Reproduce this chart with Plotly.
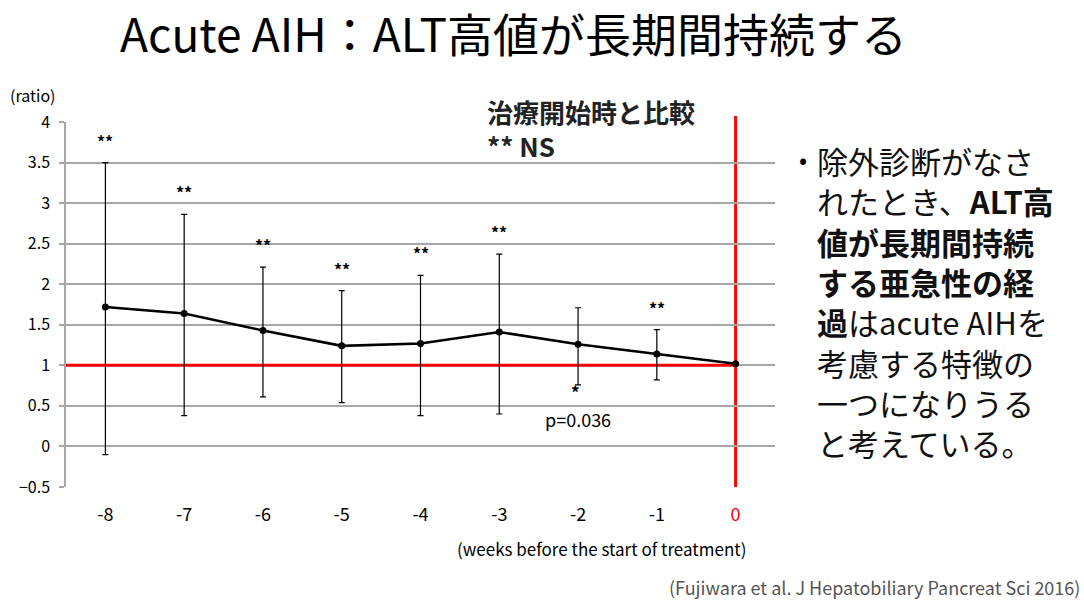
import plotly.graph_objects as go

# ALT ratio relative to the start of treatment, by week
weeks = [-8, -7, -6, -5, -4, -3, -2, -1, 0]
mean_ratio = [1.72, 1.64, 1.43, 1.24, 1.27, 1.41, 1.26, 1.14, 1.02]
upper_ratio = [3.50, 2.86, 2.21, 1.92, 2.11, 2.37, 1.71, 1.44, 1.02]
lower_ratio = [-0.10, 0.38, 0.61, 0.54, 0.38, 0.40, 0.76, 0.82, 1.02]
sig_marks = ["**", "**", "**", "**", "**", "**", "*", "**", ""]
y_ticks = [-0.5, 0, 0.5, 1, 1.5, 2, 2.5, 3, 3.5, 4]
x_ticktext = ["-8", "-7", "-6", "-5", "-4", "-3", "-2", "-1",
              "<span style='color:#ff0000'>0</span>"]

FONT = "Noto Sans CJK JP"

# plot area in pixels, used to place the free text around the chart
L, R, T, B = 66, 775, 122, 487
W, H = R - L, B - T


def px(x):
    return (x - L) / W


def py(y):
    return (B - y) / H


err_plus = [u - m for u, m in zip(upper_ratio, mean_ratio)]
err_minus = [m - l for m, l in zip(mean_ratio, lower_ratio)]

fig = go.Figure()
fig.add_trace(go.Scatter(
    x=weeks, y=mean_ratio, mode="lines+markers",
    line=dict(color="black", width=2.6),
    marker=dict(color="black", size=7),
    error_y=dict(type="data", symmetric=False, array=err_plus,
                 arrayminus=err_minus, color="black", thickness=1.2, width=3),
    showlegend=False, hoverinfo="skip",
))

# reference lines: ratio = 1 and treatment start
fig.add_shape(type="line", x0=-8.5, x1=0, y0=1, y1=1, layer="between",
              line=dict(color="#ff0000", width=3))
fig.add_shape(type="line", xref="x", yref="paper", x0=0, x1=0, y0=0, y1=py(116),
              layer="between", line=dict(color="#ff0000", width=3))

annotations = []
for w, s, u, l in zip(weeks, sig_marks, upper_ratio, lower_ratio):
    if not s:
        continue
    if s == "*":
        annotations.append(dict(x=w, y=l, text="<b>*</b>", showarrow=False, xshift=-3,
                                yshift=-7, font=dict(family=FONT, size=17, color="black")))
        annotations.append(dict(x=w, y=l, text="p=0.036", showarrow=False,
                                yshift=-34, font=dict(family=FONT, size=18, color="black")))
    else:
        annotations.append(dict(x=w, y=u, text="<b>" + s + "</b>", showarrow=False,
                                yshift=22, font=dict(family=FONT, size=16, color="black")))

annotations += [
    dict(xref="paper", yref="paper", x=px(485), y=py(112), xanchor="left", yanchor="middle",
         text="<b>治療開始時と比較</b>", showarrow=False,
         font=dict(family=FONT, size=26, color="#222")),
    dict(xref="paper", yref="paper", x=px(485), y=py(146), xanchor="left", yanchor="middle",
         text="<b>** NS</b>", showarrow=False,
         font=dict(family=FONT, size=26, color="#222")),
    dict(xref="paper", yref="paper", x=px(8), y=py(95), xanchor="left", yanchor="middle",
         text="(ratio)", showarrow=False,
         font=dict(family=FONT, size=16, color="black")),
    dict(xref="paper", yref="paper", x=px(455), y=py(548), xanchor="left", yanchor="middle",
         text="(weeks before the start of treatment)", showarrow=False,
         font=dict(family=FONT, size=17, color="black")),
    # slide title
    dict(xref="paper", yref="paper", x=px(513), y=py(32),
         xanchor="center", yanchor="middle",
         text="Acute AIH：ALT高値が長期間持続する", showarrow=False,
         font=dict(family=FONT, size=46, color="black")),
    # side note
    dict(xref="paper", yref="paper", x=px(797), y=py(158),
         xanchor="left", yanchor="middle", text="•", showarrow=False,
         font=dict(family=FONT, size=24, color="black")),
    dict(xref="paper", yref="paper", x=px(815), y=py(136),
         xanchor="left", yanchor="top", align="left", showarrow=False,
         text=("除外診断がなさ<br>れたとき、<b>ALT高</b><br><b>値が長期間持続</b><br>"
               "<b>する亜急性の経</b><br><b>過</b>はacute AIHを<br>考慮する特徴の<br>"
               "一つになりうる<br>と考えている。"),
         font=dict(family=FONT, size=31, color="#111")),
    dict(xref="paper", yref="paper", x=px(1082), y=py(587),
         xanchor="right", yanchor="middle",
         text="(Fujiwara et al. J Hepatobiliary Pancreat Sci 2016)", showarrow=False,
         font=dict(family=FONT, size=18, color="#555")),
]

fig.update_layout(
    width=1084, height=605,
    margin=dict(l=L, r=1084 - R, t=T, b=605 - B),
    paper_bgcolor="white", plot_bgcolor="white",
    annotations=annotations,
    xaxis=dict(range=[-8.5, 0.5], tickvals=weeks, ticktext=x_ticktext,
               showgrid=False, zeroline=False, showline=False, ticks="",
               ticklabelstandoff=15, tickfont=dict(family=FONT, size=18, color="black"),
               fixedrange=True),
    yaxis=dict(range=[-0.5, 4], tickvals=y_ticks, showgrid=True,
               gridcolor="#a6a6a6", gridwidth=1.5, zeroline=False,
               showline=True, linecolor="#a6a6a6", linewidth=1.5,
               ticks="outside", ticklen=5, tickcolor="#a6a6a6", tickwidth=1.5,
               ticklabelstandoff=6,
               tickfont=dict(family=FONT, size=16, color="black"), fixedrange=True),
)

fig.write_html("out.html")
